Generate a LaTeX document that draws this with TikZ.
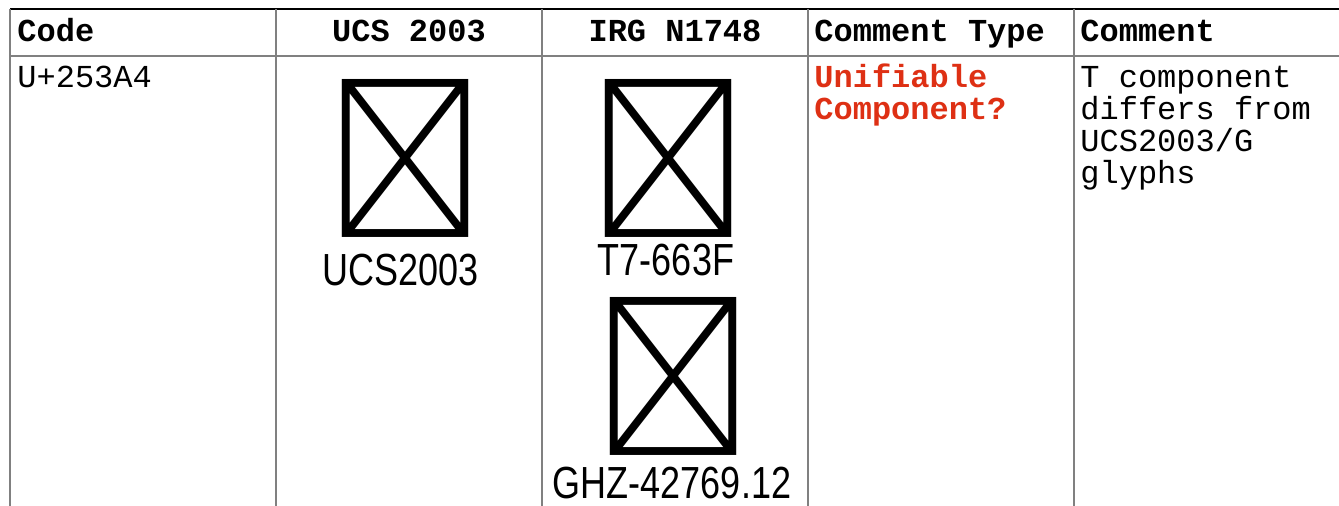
\documentclass[tikz,border=0pt]{standalone}
\usepackage{fontspec}
\setmonofont{Liberation Mono}
\newfontfamily\cjkfont{Noto Sans CJK TC}
\newfontfamily\srcfont[FakeStretch=0.8]{Liberation Sans}
\definecolor{rulegray}{RGB}{128,128,128}
\definecolor{typered}{RGB}{222,48,20}
\tikzset{
  head/.style={font=\ttfamily\bfseries\fontsize{16}{16}\selectfont, inner sep=0pt},
  body/.style={font=\ttfamily\fontsize{16}{16}\selectfont, inner sep=0pt, anchor=base west},
  glyph/.style={font=\cjkfont\fontsize{79}{79}\selectfont, inner sep=0pt},
  source/.style={font=\srcfont\fontsize{22.5}{22.5}\selectfont, inner sep=0pt, anchor=base},
}
\begin{document}
\begin{tikzpicture}[x=0.5pt, y=-0.5pt]
  \useasboundingbox (0,0) rectangle (1339,506);
  \draw[line width=1pt] (10,9) -- (1339,9);
  \begin{scope}[rulegray, line width=1pt]
    \draw (10,9) -- (10,506);
    \draw (276,9) -- (276,506);
    \draw (542,9) -- (542,506);
    \draw (808,9) -- (808,506);
    \draw (1074,9) -- (1074,506);
    \draw (10,56) -- (1339,56);
  \end{scope}
  \node[head, anchor=base west] (code) at (17,42) {Code};
  \node[head, anchor=base] (ucs) at (409,42) {UCS 2003};
  \node[head, anchor=base] (irg) at (675,42) {IRG N1748};
  \node[head, anchor=base west] (type) at (814,42) {Comment Type};
  \node[head, anchor=base west] (comment) at (1080,42) {Comment};
  \node[body] (cp) at (17,88) {U+253A4};
  \node[glyph] (ucsglyph) at (405,158) {\char"253A4};
  \node[source] (ucslabel) at (401,286) {UCS2003};
  \node[glyph] (tglyph) at (668,158) {\char"253A4};
  \node[source] (tlabel) at (666,276) {T7-663F};
  \node[glyph] (gglyph) at (673,376) {\char"253A4};
  \node[source] (glabel) at (672,499) {GHZ-42769.12};
  \node[body, typered, font=\ttfamily\bfseries\fontsize{16}{16}\selectfont] (type1) at (814,88) {Unifiable};
  \node[body, typered, font=\ttfamily\bfseries\fontsize{16}{16}\selectfont] (type2) at (814,120) {Component?};
  \node[body] (comment1) at (1080,88) {T component};
  \node[body] (comment2) at (1080,120) {differs from};
  \node[body] (comment3) at (1080,152) {UCS2003/G};
  \node[body] (comment4) at (1080,184) {glyphs};
\end{tikzpicture}
\end{document}
